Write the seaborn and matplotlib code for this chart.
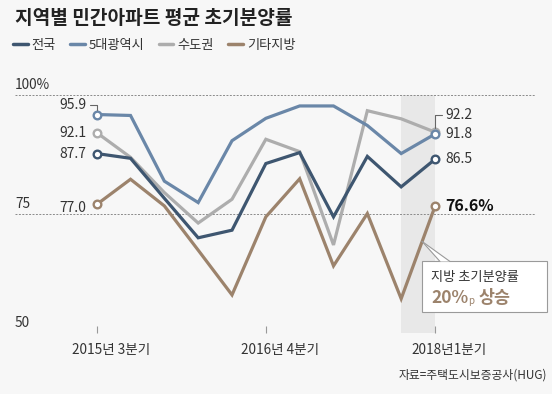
import numpy as np
import pandas as pd
import matplotlib
matplotlib.use('Agg')
import matplotlib.pyplot as plt
import matplotlib.transforms as mtransforms
from matplotlib.lines import Line2D
from matplotlib.patches import Rectangle, Polygon
from matplotlib.text import Annotation
import seaborn as sns

# 분기별 평균 초기분양률 (%), 2015년 3분기 ~ 2018년 1분기
quarters = ['2015Q3', '2015Q4', '2016Q1', '2016Q2', '2016Q3', '2016Q4',
            '2017Q1', '2017Q2', '2017Q3', '2017Q4', '2018Q1']
nation = [87.7, 86.7, 78.3, 70.0, 71.6, 85.6, 87.9, 74.4, 87.1, 80.7, 86.5]
metro = [95.9, 95.7, 81.9, 77.4, 90.4, 95.1, 97.7, 97.7, 93.6, 87.7, 91.8]
capital = [92.1, 86.9, 79.5, 73.1, 78.1, 90.7, 88.1, 68.5, 96.7, 95.0, 92.2]
local = [77.0, 82.3, 76.7, 67.4, 58.0, 74.4, 82.4, 64.1, 75.1, 57.2, 76.6]

regions = ['전국', '5대광역시', '수도권', '기타지방']
colors = ['#3e5670', '#6a87a8', '#adadad', '#9c836c']
draw_order = ['수도권', '기타지방', '5대광역시', '전국']

tick_pos = [0, 5, 10]
tick_labels = ['2015년 3분기', '2016년 4분기', '2018년1분기']
yticks = [50, 75, 100]
ytick_labels = ['50', '75', '100%']

W, H = 552, 394
BG = '#f7f7f7'
TXT = '#333333'
BROWN = '#9c836c'

sns.set_style('white')
plt.rcParams['font.family'] = ['Noto Sans CJK KR', 'DejaVu Sans']


def fpos(x, y):
    """pixel position -> figure fraction"""
    return x / W, 1 - y / H


idx = np.arange(len(quarters))
wide = pd.DataFrame({'idx': idx, '전국': nation, '5대광역시': metro,
                     '수도권': capital, '기타지방': local})
df = wide.melt(id_vars='idx', var_name='region', value_name='rate')
palette = dict(zip(regions, colors))

fig = plt.figure(figsize=(W / 100, H / 100), dpi=100, facecolor=BG)
ax = fig.add_axes([15 / W, 1 - 333 / H, (536 - 15) / W, (333 - 95) / H])
ax.set_facecolor(BG)

# 2018년 1분기 강조 구간
ax.axvspan(9, 10, color='#e8e8e8', lw=0, zorder=0)

sns.lineplot(data=df, x='idx', y='rate', hue='region', hue_order=draw_order,
             palette=palette, linewidth=2.3, legend=False, errorbar=None,
             marker='o', markevery=[0, len(quarters) - 1], markersize=5.5,
             solid_joinstyle='miter', ax=ax)
for line in ax.lines:
    line.set_markerfacecolor('white')
    line.set_markeredgecolor(line.get_color())
    line.set_markeredgewidth(1.7)

ax.set_xlim((15 - 96.7) / 33.83, (536 - 96.7) / 33.83)
ax.set_ylim(50, 100)
for s in ax.spines.values():
    s.set_visible(False)

ax.set_yticks(yticks)
ax.tick_params(axis='y', length=0, labelleft=False)
ax.grid(axis='y', color='#8a8a8a', linestyle=(0, (2, 1.5)), linewidth=0.7)
ax.set_axisbelow(True)
for v, lab in zip(yticks, ytick_labels):
    ax.annotate(lab, xy=(0, v), xycoords=('axes fraction', 'data'),
                xytext=(0, 10), textcoords='offset pixels',
                ha='left', va='center', fontsize=9.8, color=TXT)

ax.set_xticks(tick_pos)
ax.set_xticklabels(tick_labels, fontsize=9.8, color=TXT)
ax.tick_params(axis='x', bottom=True, direction='in', length=5, width=0.8,
               color='#999999', pad=7)
shift = mtransforms.ScaledTranslation(0.14, 0, fig.dpi_scale_trans)
for lab in ax.get_xticklabels():
    lab.set_transform(lab.get_transform() + shift)
ax.set_xlabel('')
ax.set_ylabel('')

# 시작점/끝점 값 표시
last = len(quarters) - 1
left_labels = [(metro[0], 10), (capital[0], 0), (nation[0], 0), (local[0], -4)]
for v, dy in left_labels:
    ax.annotate(f'{v:.1f}', xy=(0, v), xytext=(-10, dy),
                textcoords='offset pixels', ha='right', va='center',
                fontsize=10, color=TXT)
right_labels = [(capital[last], 17), (metro[last], 0), (nation[last], 0)]
for v, dy in right_labels:
    ax.annotate(f'{v:.1f}', xy=(last, v), xytext=(10, dy),
                textcoords='offset pixels', ha='left', va='center',
                fontsize=10, color=TXT)
ax.annotate(f'{local[last]:.1f}%', xy=(last, local[last]), xytext=(10, 0),
            textcoords='offset pixels', ha='left', va='center',
            fontsize=11.5, fontweight='bold', color='#111111')

bracket = dict(arrowstyle='-', color='#666666', lw=0.8, shrinkA=0, shrinkB=3,
               connectionstyle='angle,angleA=0,angleB=90,rad=0')
ax.annotate('', xy=(0, metro[0]), xytext=(-7, 10),
            textcoords='offset pixels', arrowprops=bracket)
ax.annotate('', xy=(last, capital[last]), xytext=(7, 17),
            textcoords='offset pixels', arrowprops=bracket)

# 제목, 범례
fig.text(*fpos(15, 18), '지역별 민간아파트 평균 초기분양률', fontsize=13.8,
         fontweight='bold', color='#222222', ha='left', va='center')
handles = [Line2D([], [], color=palette[r], lw=2.5) for r in regions]
fig.legend(handles, regions, loc='center left', bbox_to_anchor=fpos(13, 45),
           ncol=4, frameon=False, fontsize=9.5, handlelength=1.1,
           handletextpad=0.3, columnspacing=1.1, borderpad=0,
           borderaxespad=0, labelcolor=TXT)

# 지방 설명 상자
fig.canvas.draw()
tip_x = 9.62
tip = ax.transData.transform((tip_x, np.interp(tip_x, idx, local)))
tip = fig.transFigure.inverted().transform(tip)
box = Rectangle(fpos(422, 312), 125 / W, 51 / H, transform=fig.transFigure,
                facecolor='white', edgecolor='#9a9a9a', lw=0.8, zorder=3)
fig.add_artist(box)
b1, b2 = fpos(440, 261.5), fpos(450, 261.5)
fig.add_artist(Polygon([tip, b1, b2], closed=True, transform=fig.transFigure,
                       facecolor='white', edgecolor='none', zorder=4))
for b in (b1, b2):
    fig.add_artist(Line2D([tip[0], b[0]], [tip[1], b[1]], color='#9a9a9a',
                          lw=0.8, transform=fig.transFigure, zorder=4))
fig.text(*fpos(431, 277), '지방 초기분양률', fontsize=9.5, color=TXT,
         ha='left', va='center', zorder=5)
t1 = fig.text(*fpos(431, 298), '20%', fontsize=12.5, color=BROWN,
              fontweight='bold', ha='left', va='center', zorder=5)
t2 = Annotation('p', xy=(1, 0), xycoords=t1, xytext=(0, 1),
                textcoords='offset pixels', fontsize=7, color=BROWN,
                ha='left', va='bottom', zorder=5)
fig.add_artist(t2)
t3 = Annotation('상승', xy=(1, 0), xycoords=t2, xytext=(4, -1),
                textcoords='offset pixels', fontsize=12.5, color=BROWN,
                fontweight='bold', ha='left', va='bottom', zorder=5)
fig.add_artist(t3)

fig.text(*fpos(547, 375), '자료=주택도시보증공사(HUG)', fontsize=8.5,
         color=TXT, ha='right', va='center')

fig.savefig('out.png', dpi=100, facecolor=BG)
